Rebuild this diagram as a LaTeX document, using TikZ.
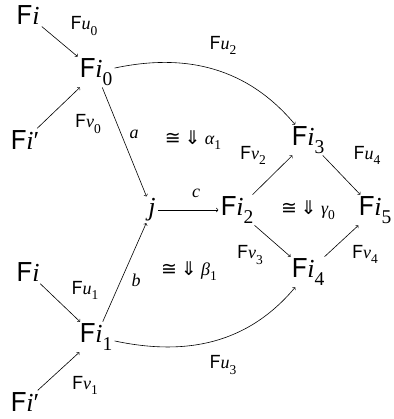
\documentclass[tikz,border=0pt]{standalone}
\usepackage{graphicx}
\usepackage{fontspec}
\newfontfamily\hv{TeX Gyre Heros}
\newfontfamily\tm{Liberation Serif}
\newfontfamily\djsym{DejaVu Sans}
\newcommand\lo[1]{\raisebox{-0.28em}{\scalebox{0.75}{\tm #1}}}
\newcommand\Fx[2]{{\hv F}{\tm\itshape #1}\lo{#2}}
\newcommand\Fp{{\hv F}{\tm\itshape i\/}{\tm\char"2032}}
\newcommand\Fi{{\hv F}{\tm\itshape i}}
\newcommand\mlet[1]{{\tm\itshape #1}}
\newcommand\iso[2]{{\djsym\fontsize{19}{22}\selectfont ≅\hspace{0.2em}⇓}\hspace{0.25em}{\tm\itshape #1}\lo{#2}}
\begin{document}
\begin{tikzpicture}[x=1pt,y=-1pt,
  obj/.style={font=\fontsize{26}{30}\selectfont,inner sep=2pt},
  lab/.style={font=\fontsize{18}{21}\selectfont,inner sep=0pt},
  arr/.style={->,line width=0.6pt}]
\useasboundingbox (0,0) rectangle (393,419);
\node[obj] (Fa) at (28,15) {\Fi};
\node[obj] (F0) at (96,72) {\Fx{i}{0}};
\node[obj] (Fb) at (25,140) {\Fp};
\node[obj] (j) at (152,210) {\mlet{j}};
\node[obj] (F2) at (237,210) {\Fx{i}{2}};
\node[obj] (F3) at (308,140) {\Fx{i}{3}};
\node[obj] (F5) at (375,210) {\Fx{i}{5}};
\node[obj] (F4) at (308,272) {\Fx{i}{4}};
\node[obj] (Fc) at (28,272) {\Fi};
\node[obj] (F1) at (96,337) {\Fx{i}{1}};
\node[obj] (Fd) at (25,402) {\Fp};

\draw[arr] (Fa) -- (F0);
\draw[arr] (Fb) -- (F0);
\draw[arr] (F0) -- (j);
\draw[arr] (F1) -- (j);
\draw[arr] (j) -- (F2);
\draw[arr] (F2) -- (F3);
\draw[arr] (F2) -- (F4);
\draw[arr] (F3) -- (F5);
\draw[arr] (F4) -- (F5);
\draw[arr] (Fc) -- (F1);
\draw[arr] (Fd) -- (F1);
\draw[arr] (F0) to[out=12,in=130] (F3);
\draw[arr] (F1) to[out=-12,in=230] (F4);

\node[lab] (l1) at (84,26) {\Fx{u}{0}};
\node[lab] (l2) at (88,124) {\Fx{v}{0}};
\node[lab] (l3) at (134,134) {\mlet{a}};
\node[lab] (l4) at (193,140) {\iso{α}{1}};
\node[lab] (l5) at (223,45) {\Fx{u}{2}};
\node[lab] (l6) at (196,193) {\mlet{c}};
\node[lab] (l7) at (253,155) {\Fx{v}{2}};
\node[lab] (l8) at (367,155) {\Fx{u}{4}};
\node[lab] (l9) at (308,210) {\iso{γ}{0}};
\node[lab] (l10) at (250,255) {\Fx{v}{3}};
\node[lab] (l11) at (365,254) {\Fx{v}{4}};
\node[lab] (l12) at (189,271) {\iso{β}{1}};
\node[lab] (l13) at (136,280) {\mlet{b}};
\node[lab] (l14) at (85,290) {\Fx{u}{1}};
\node[lab] (l15) at (223,365) {\Fx{u}{3}};
\node[lab] (l16) at (85,385) {\Fx{v}{1}};
\end{tikzpicture}
\end{document}
